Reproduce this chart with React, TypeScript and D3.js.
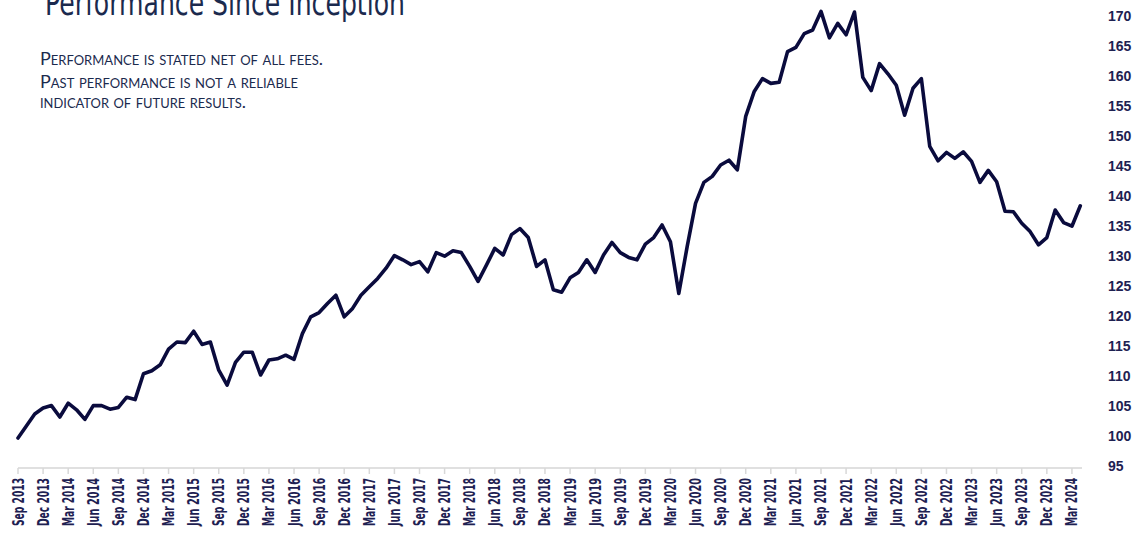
import React from "react";
import * as d3 from "d3";

const titleText = "Performance Since Inception";
const noteLines = [
  "Performance is stated net of all fees.",
  "Past performance is not a reliable",
  "indicator of future results.",
];

const startMonth = new Date(2013, 8, 1);
const endMonth = new Date(2024, 4, 1);
const months = d3.timeMonth.range(startMonth, endMonth).map((d) => d3.timeFormat("%b %Y")(d));

const values = [
  100, 102, 104.0, 105.0, 105.4, 103.5, 105.8, 104.7, 103.1, 105.4,
  105.4, 104.8, 105.1, 106.8, 106.4, 110.7, 111.2, 112.2, 114.8, 116.0,
  115.9, 117.8, 115.6, 116.0, 111.3, 108.8, 112.6, 114.3, 114.3, 110.5,
  113.0, 113.2, 113.8, 113.1, 117.4, 120.2, 120.9, 122.4, 123.8, 120.2,
  121.6, 123.8, 125.2, 126.6, 128.3, 130.4, 129.7, 128.9, 129.4, 127.7,
  130.9, 130.3, 131.2, 130.9, 128.6, 126.1, 128.8, 131.6, 130.5, 133.9,
  134.9, 133.4, 128.6, 129.7, 124.7, 124.3, 126.7, 127.6, 129.7, 127.6,
  130.5, 132.6, 130.9, 130.1, 129.7, 132.3, 133.4, 135.5, 132.7, 124.1,
  131.9, 139.1, 142.6, 143.6, 145.5, 146.3, 144.7, 153.6, 157.7, 159.9,
  159.1, 159.3, 164.4, 165.1, 167.4, 168.0, 171.1, 166.7, 169.1, 167.2,
  171.0, 160.1, 157.9, 162.4, 160.7, 158.8, 153.8, 158.3, 159.9, 148.6,
  146.2, 147.6, 146.6, 147.7, 146.1, 142.6, 144.6, 142.7, 137.8, 137.7,
  135.8, 134.4, 132.2, 133.4, 138.0, 135.9, 135.3, 138.7,
];

const xTickLabels = [
  "Sep 2013", "Dec 2013", "Mar 2014", "Jun 2014", "Sep 2014", "Dec 2014",
  "Mar 2015", "Jun 2015", "Sep 2015", "Dec 2015", "Mar 2016", "Jun 2016",
  "Sep 2016", "Dec 2016", "Mar 2017", "Jun 2017", "Sep 2017", "Dec 2017",
  "Mar 2018", "Jun 2018", "Sep 2018", "Dec 2018", "Mar 2019", "Jun 2019",
  "Sep 2019", "Dec 2019", "Mar 2020", "Jun 2020", "Sep 2020", "Dec 2020",
  "Mar 2021", "Jun 2021", "Sep 2021", "Dec 2021", "Mar 2022", "Jun 2022",
  "Sep 2022", "Dec 2022", "Mar 2023", "Jun 2023", "Sep 2023", "Dec 2023",
  "Mar 2024",
];

const yTicks = [95, 100, 105, 110, 115, 120, 125, 130, 135, 140, 145, 150, 155, 160, 165, 170];

const W = 1146;
const H = 533;
const NAVY = "#1b2a4e";
const LINE = "#0a0b3d";
const LABEL = "#1e2152";
const CONDENSED = "'DejaVu Sans Condensed', 'Liberation Sans Narrow', 'DejaVu Sans', sans-serif";

export default function App() {
  const x = d3.scalePoint<string>().domain(months).range([18, 1080.3]);
  const y = d3.scaleLinear().domain([95, 170]).range([468, 18]);
  const line = d3
    .line<number>()
    .x((_, i) => x(months[i]) as number)
    .y((d) => y(d));
  const pathD = line(values) || "";
  const axisY = y(95);

  return (
    <svg
      width={W}
      height={H}
      style={{ position: "absolute", left: 0, top: 0, background: "#fff" }}
    >
      <text
        x={45}
        y={15}
        fontFamily={CONDENSED}
        fontStretch="condensed"
        fontSize={35}
        fill={NAVY}
        textLength={360}
        lengthAdjust="spacingAndGlyphs"
      >
        {titleText}
      </text>

      {noteLines.map((t, i) => (
        <text
          key={i}
          x={40}
          y={[65, 88, 108][i]}
          fontFamily="Lato, 'Open Sans', sans-serif"
          fontSize={18}
          fill={NAVY}
          style={{ fontVariant: "small-caps" }}
          textLength={[283, 258, 206][i]}
          lengthAdjust="spacingAndGlyphs"
        >
          {t}
        </text>
      ))}

      <line x1={18} x2={1082} y1={axisY} y2={axisY} stroke="#e0e0e0" strokeWidth={2} />
      {xTickLabels.map((lab) => {
        const xx = x(lab) as number;
        return (
          <g key={lab}>
            <line x1={xx} x2={xx} y1={axisY} y2={axisY + 6} stroke="#d8d8d8" strokeWidth={1.5} />
            <text
              transform={`translate(${xx + 5.5},${axisY + 10}) rotate(-90)`}
              textAnchor="end"
              fontFamily={CONDENSED}
              fontStretch="condensed"
              fontWeight="bold"
              fontSize={15.5}
              fill={LABEL}
              textLength={48}
              lengthAdjust="spacingAndGlyphs"
            >
              {lab}
            </text>
          </g>
        );
      })}

      {yTicks.map((v) => (
        <text
          key={v}
          x={1108}
          y={y(v) - 2}
          dominantBaseline="central"
          fontFamily="'Liberation Sans', Arial, sans-serif"
          fontWeight="bold"
          fontSize={14}
          fill={LABEL}
        >
          {v}
        </text>
      ))}

      <path
        d={pathD}
        fill="none"
        stroke={LINE}
        strokeWidth={3.6}
        strokeLinejoin="round"
        strokeLinecap="round"
      />
    </svg>
  );
}
